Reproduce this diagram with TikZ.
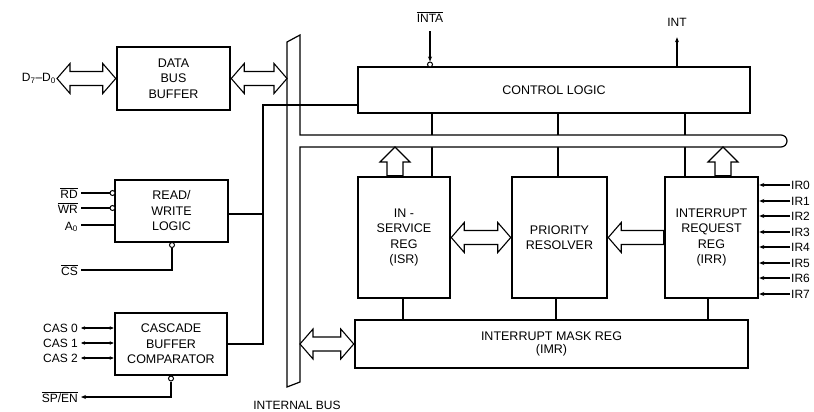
\documentclass[tikz,border=0pt]{standalone}
\usepackage{fontspec}
\setmainfont{Liberation Sans}
\usetikzlibrary{arrows.meta,calc}
\newcommand\hdarrow[2]{\draw[hollow] let \p1=(#1), \p2=(#2) in
  (\x1,\y1) -- (\x1+13pt,\y1+15pt) -- (\x1+13pt,\y1+7pt) -- (\x2-13pt,\y1+7pt) --
  (\x2-13pt,\y1+15pt) -- (\x2,\y1) -- (\x2-13pt,\y1-15pt) -- (\x2-13pt,\y1-7pt) --
  (\x1+13pt,\y1-7pt) -- (\x1+13pt,\y1-15pt) -- cycle;}
\newcommand\hlarrow[2]{\draw[hollow] let \p1=(#1), \p2=(#2) in
  (\x1,\y1) -- (\x1+13pt,\y1+15pt) -- (\x1+13pt,\y1+7pt) -- (\x2,\y1+7pt) --
  (\x2,\y1-7pt) -- (\x1+13pt,\y1-7pt) -- (\x1+13pt,\y1-15pt) -- cycle;}
\newcommand\vuarrow[2]{\draw[hollow] let \p1=(#1), \p2=(#2) in
  (\x1,\y1) -- (\x1+15pt,\y1-15pt) -- (\x1+8pt,\y1-15pt) -- (\x1+8pt,\y2) --
  (\x1-8pt,\y2) -- (\x1-8pt,\y1-15pt) -- (\x1-15pt,\y1-15pt) -- cycle;}
\begin{document}
\begin{tikzpicture}[x=1pt,y=-1pt,
  blk/.style={draw,line width=2.5pt,fill=white,align=center,inner sep=0pt,
    font=\fontsize{12.5}{15.5}\selectfont},
  conn/.style={line width=1.1pt},
  hollow/.style={draw,line width=1.1pt,fill=white,line join=miter},
  busline/.style={draw,line width=1.2pt,fill=white},
  lab/.style={font=\fontsize{12}{13}\selectfont,inner sep=1pt},
  bub/.style={circle,draw,line width=1pt,fill=white,minimum size=5pt,inner sep=0pt},
  tip/.style={-{Stealth[length=5pt,width=4pt]}},
  tips/.style={{Stealth[length=4pt,width=3.5pt]}-{Stealth[length=4pt,width=3.5pt]}},
]
\useasboundingbox (0,0) rectangle (814,412);
% reference coordinates
\coordinate (busL) at (287,0);
\coordinate (busR) at (300,0);
\coordinate (busB) at (0,147);
\coordinate (v1) at (432,0);
\coordinate (v2) at (558,0);
\coordinate (v3) at (685,0);
\coordinate (v4) at (677,0);
\coordinate (w1) at (403,0);
\coordinate (w2) at (556,0);
\coordinate (w3) at (708,0);
\coordinate (a1) at (395,0);
\coordinate (a2) at (723,0);
\coordinate (jt) at (263,105);
\coordinate (d70) at (57,78.5);

% blocks
\node[blk,minimum width=113pt,minimum height=63pt] (dbb) at (173.5,78.5) {DATA\\BUS\\BUFFER};
\node[blk,minimum width=113pt,minimum height=62pt] (rwl) at (171.5,211) {READ/\\WRITE\\LOGIC};
\node[blk,minimum width=112pt,minimum height=62pt] (cas) at (171,344) {CASCADE\\BUFFER\\COMPARATOR};
\node[blk,minimum width=392pt,minimum height=46pt] (ctl) at (554,90) {CONTROL LOGIC};
\node[blk,minimum width=92pt,minimum height=121pt] (isr) at (404,237.5) {IN -\\SERVICE\\REG\\(ISR)};
\node[blk,minimum width=95pt,minimum height=121pt] (pr) at (559.5,237.5) {PRIORITY\\RESOLVER};
\node[blk,minimum width=93pt,minimum height=121pt] (irr) at (711.5,237.5) {INTERRUPT\\REQUEST\\REG\\(IRR)};
\node[blk,minimum width=393pt,minimum height=48pt,font=\fontsize{12.5}{13.5}\selectfont] (imr) at (551.5,344) {INTERRUPT MASK REG\\(IMR)};

% vertical links control logic -> registers (hidden inside bus)
\draw[conn] (v1 |- ctl.south) -- (v1 |- isr.north);
\draw[conn] (v2 |- ctl.south) -- (v2 |- pr.north);
\draw[conn] (v3 |- ctl.south) -- (v3 |- irr.north);
% links registers -> IMR
\draw[conn] (w1 |- isr.south) -- (w1 |- imr.north);
\draw[conn] (w2 |- pr.south) -- (w2 |- imr.north);
\draw[conn] (w3 |- irr.south) -- (w3 |- imr.north);

% internal bus
\path[busline] (287,42) -- (300,35) -- (300,135) -- (781,135)
  arc[start angle=90,end angle=-90,radius=6pt] -- (300,147) -- (300,382) -- (287,387) -- cycle;

% control line through bus
\draw[conn] (jt -| ctl.west) -- (jt) -- (jt |- cas.east) -- (cas.east);
\draw[conn] ([yshift=-3pt]rwl.east) -- ([yshift=-3pt]rwl.east -| jt);

% hollow arrows
\hdarrow{d70}{dbb.west}
\hdarrow{dbb.east}{dbb.east -| busL}
\hdarrow{imr.west -| busR}{imr.west}
\hdarrow{isr.east}{pr.west}
\hlarrow{pr.east}{irr.west}
\vuarrow{a1 |- busB}{a1 |- isr.north}
\vuarrow{a2 |- busB}{a2 |- irr.north}

% labels and pins
\node[lab,anchor=east] (dl) at (d70) {D\textsubscript{7}–D\textsubscript{0}};

\node[lab] (inta) at (430,17) {$\overline{\mbox{INTA}}$};
\node[bub] (binta) at (430,64.5) {};
\draw[conn,tip] ([yshift=-8pt]inta.south) -- (binta.north);

\node[lab] (intl) at (677,22) {INT};
\draw[conn,tip] (v4 |- ctl.north) -- ([yshift=-10pt]intl.south);

\node[lab,anchor=east] (rd) at (79,193) {$\overline{\mbox{RD}}$};
\node[lab,anchor=east] (wr) at (79,208) {$\overline{\mbox{WR}}$};
\node[lab,anchor=east] (a0) at (79,227) {A\textsubscript{0}};
\node[lab,anchor=east] (cs) at (79,270) {$\overline{\mbox{CS}}$};
\node[bub] (brd) at (112.5,193) {};
\node[bub] (bwr) at (112.5,208) {};
\node[bub] (bcs) at (172,245) {};
\draw[conn] ([xshift=2pt]rd.east) -- (brd.west);
\draw[conn] ([xshift=2pt]wr.east) -- (bwr.west);
\draw[conn] ([xshift=2pt]a0.east |- 0,225) -- (rwl.west |- 0,225);
\draw[conn] ([xshift=2pt]cs.east) -| (bcs.south);

\node[lab,anchor=east] (c0) at (79,328) {CAS 0};
\node[lab,anchor=east] (c1) at (79,343) {CAS 1};
\node[lab,anchor=east] (c2) at (79,358) {CAS 2};
\draw[conn,tips] ([xshift=2pt]c0.east) -- (c0.east -| cas.west);
\draw[conn,tips] ([xshift=2pt]c1.east) -- (c1.east -| cas.west);
\draw[conn,tips] ([xshift=2pt]c2.east) -- (c2.east -| cas.west);

\node[lab,anchor=east] (sp) at (79,397) {$\overline{\mbox{SP/EN}}$};
\node[bub] (bsp) at (171,378.5) {};
\draw[conn,tip] (bsp.south) |- ([xshift=2pt]sp.east);

\foreach \i/\y in {0/185,1/201,2/216,3/232,4/247,5/263,6/278,7/294}{
  \node[lab,anchor=west] (ir\i) at (790,\y) {IR\i};
  \draw[conn,tip] (ir\i.west) -- (ir\i.west -| irr.east);
}

\node[lab] (ibus) at (297,405) {INTERNAL BUS};
\end{tikzpicture}
\end{document}
